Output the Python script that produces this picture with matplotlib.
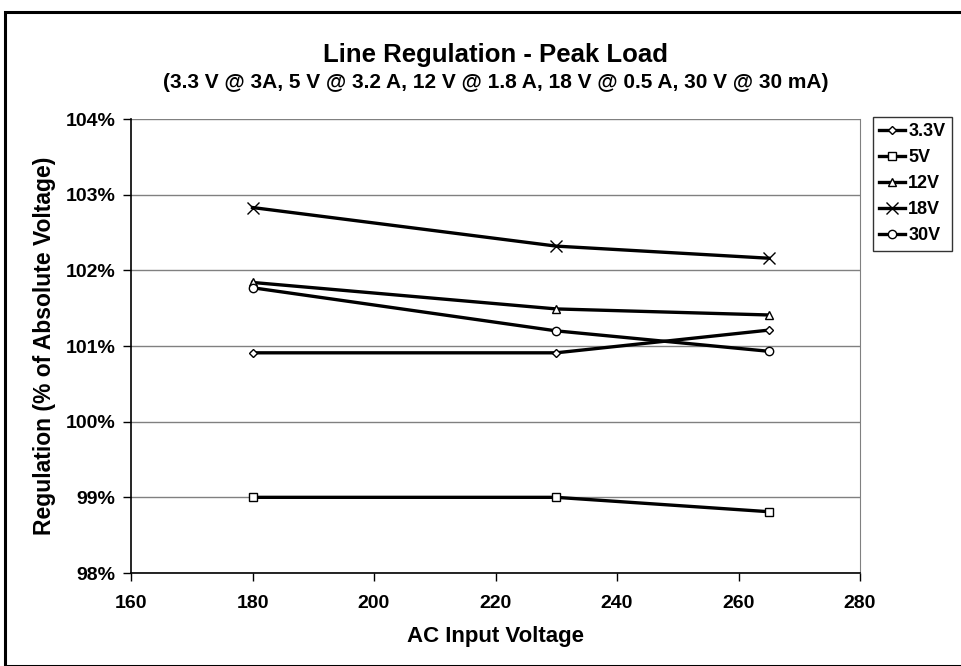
import matplotlib
matplotlib.use("Agg")
import matplotlib.pyplot as plt
from matplotlib.patches import Rectangle
from matplotlib.ticker import FuncFormatter

plt.rcParams['font.family'] = ['Liberation Sans', 'DejaVu Sans']

ac_voltage = [180, 230, 265]
series_names = ["3.3V", "5V", "12V", "18V", "30V"]
reg_33 = [100.91, 100.91, 101.21]
reg_5 = [99.00, 99.00, 98.81]
reg_12 = [101.84, 101.49, 101.41]
reg_18 = [102.83, 102.32, 102.16]
reg_30 = [101.77, 101.20, 100.93]
x_ticks = [160, 180, 200, 220, 240, 260, 280]
y_ticks = [98, 99, 100, 101, 102, 103, 104]

markers = ["D", "s", "^", "x", "o"]
msizes = [4.5, 6, 6, 8, 6]
all_series = [reg_33, reg_5, reg_12, reg_18, reg_30]

fig = plt.figure(figsize=(9.61, 6.66), dpi=100)
W, H = 961, 666
ax = fig.add_axes([131 / W, 1 - 573 / H, (860 - 131) / W, (573 - 119) / H])

for name, vals, m, ms in zip(series_names, all_series, markers, msizes):
    ax.plot(ac_voltage, vals, color="black", lw=2.4, marker=m, ms=ms,
            mfc="white", mec="black", mew=1.0, label=name, zorder=3)

ax.set_xlim(160, 280)
ax.set_ylim(98, 104)
ax.set_xticks(x_ticks)
ax.set_yticks(y_ticks)
ax.yaxis.set_major_formatter(FuncFormatter(lambda v, p: f"{v:.0f}%"))
ax.grid(axis="y", color="#808080", lw=1)
ax.set_axisbelow(True)
for s in ["left", "bottom"]:
    ax.spines[s].set_color("black")
    ax.spines[s].set_linewidth(1.2)
ax.spines["top"].set_visible(False)
ax.spines["right"].set_color("#808080")
ax.tick_params(axis="both", direction="out", length=6, width=1, labelsize=14, pad=5)
for lab in ax.get_xticklabels() + ax.get_yticklabels():
    lab.set_fontweight("bold")
ax.tick_params(axis="x", pad=10)

ax.set_xlabel("AC Input Voltage", fontsize=16, fontweight="bold", labelpad=10)
ax.set_ylabel("Regulation (% of Absolute Voltage)", fontsize=16.5, fontweight="bold", labelpad=7)

cx = 0.5 * (131 + 860) / W
fig.text(cx, 1 - 55 / H, "Line Regulation - Peak Load", ha="center",
         va="center", fontsize=18.5, fontweight="bold")
fig.text(cx, 1 - 83 / H,
         "(3.3 V @ 3A, 5 V @ 3.2 A, 12 V @ 1.8 A, 18 V @ 0.5 A, 30 V @ 30 mA)",
         ha="center", va="center", fontsize=15, fontweight="bold")

leg = fig.legend(loc="upper left", bbox_to_anchor=(873 / W, 1 - 117 / H),
                 frameon=True, fancybox=False, edgecolor="black",
                 prop={"weight": "bold", "size": 13}, handlelength=1.4,
                 handletextpad=0.2, borderpad=0.35, labelspacing=0.5, borderaxespad=0)
leg.get_frame().set_linewidth(1.0)

fig.patches.append(Rectangle((5 / W, 0 / H), 1.2, (666 - 12) / H, transform=fig.transFigure,
                             fill=False, edgecolor="black", lw=2.2))

fig.savefig("out.png", dpi=100)
